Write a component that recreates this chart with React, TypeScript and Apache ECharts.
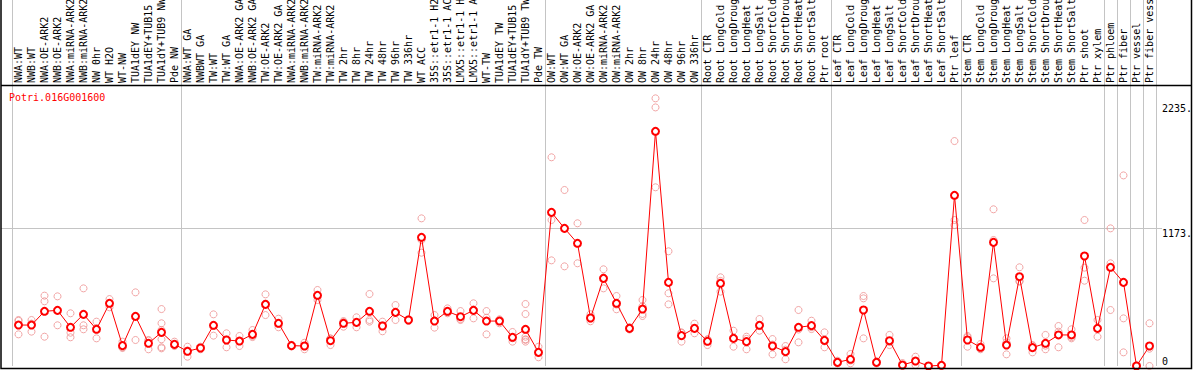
import React, { useEffect, useRef } from 'react';
import * as echarts from 'echarts';

const MONO = 'DejaVu Sans Mono';
const GENE = 'Potri.016G001600';

const categories = [
  'NWA:WT', 'NWB:WT', 'NWA:OE-ARK2', 'NWB:OE-ARK2', 'NWA:miRNA-ARK2', 'NWB:miRNA-ARK2', 'NW 0hr', 'WT H2O', 'WT-NW',
  'TUA1dEY NW', 'TUA1dEY+TUB15 NW', 'TUA1dY+TUB9 NW', 'Pde NW',
  'NWA:WT GA', 'NWBWT GA', 'TW:WT', 'TW:WT GA', 'NWA:OE-ARK2 GA', 'NWB:OE-ARK2 GA', 'TW:OE-ARK2', 'TW:OE-ARK2 GA',
  'NWA:miRNA-ARK2 GA', 'NWB:miRNA-ARK2 GA', 'TW:miRNA-ARK2', 'TW:miRNA-ARK2 GA', 'TW 2hr', 'TW 8hr', 'TW 24hr', 'TW 48hr',
  'TW 96hr', 'TW 336hr', 'WT ACC', '35S::etr1-1 H2O', '35S::etr1-1 ACC', 'LMX5::etr1-1 H2O', 'LMX5::etr1-1 ACC', 'WT-TW',
  'TUA1dEY TW', 'TUA1dEY+TUB15 TW', 'TUA1dY+TUB9 TW', 'Pde TW',
  'OW:WT', 'OW:WT GA', 'OW:OE-ARK2', 'OW:OE-ARK2 GA', 'OW:miRNA-ARK2', 'OW:miRNA-ARK2 GA', 'OW 2hr', 'OW 8hr', 'OW 24hr',
  'OW 48hr', 'OW 96hr', 'OW 336hr',
  'Root CTR', 'Root LongCold', 'Root LongDrought', 'Root LongHeat', 'Root LongSalt', 'Root ShortCold', 'Root ShortDrought',
  'Root ShortHeat', 'Root ShortSalt', 'Ptr root',
  'Leaf CTR', 'Leaf LongCold', 'Leaf LongDrought', 'Leaf LongHeat', 'Leaf LongSalt', 'Leaf ShortCold', 'Leaf ShortDrought',
  'Leaf ShortHeat', 'Leaf ShortSalt', 'Ptr leaf',
  'Stem CTR', 'Stem LongCold', 'Stem LongDrought', 'Stem LongHeat', 'Stem LongSalt', 'Stem ShortCold', 'Stem ShortDrought',
  'Stem ShortHeat', 'Stem ShortSalt', 'Ptr shoot', 'Ptr xylem',
  'Ptr phloem', 'Ptr fiber', 'Ptr vessel', 'Ptr fiber vessel',
];

const means = [
  348, 348, 465, 473, 329, 439, 312, 533, 173, 422, 193, 286, 184,
  125, 153, 346, 221, 212, 269, 524, 363, 173, 170, 601, 215, 363, 371, 465, 340, 456, 391, 1094, 382, 465, 419, 473, 382, 382, 244, 312, 116,
  1306, 1170, 1043, 408, 745, 533, 320, 484, 1995, 711, 258, 320,
  210, 703, 235, 207, 346, 170, 122, 329, 343, 218,
  31, 57, 476, 31, 215, 8, 42, 0, 6, 1451,
  221, 159, 1051, 178, 759, 156, 193, 264, 264, 935, 320,
  839, 711, 0, 170,
];

const replicates: number[][] = [
  [391, 384, 269], [391, 360, 292], [598, 550, 249], [592, 346], [448, 283, 244], [660, 346, 312], [377, 320, 235],
  [569, 533, 499], [207, 159, 153], [626, 221], [221, 142, 216], [484, 363, 306, 227, 159, 150], [207, 170, 175],
  [164, 79, 132], [164, 142], [439, 258, 341], [278, 159, 226], [255, 170], [306, 255, 246], [609, 433, 530],
  [402, 329, 358], [180, 166], [198, 142, 170], [646, 561, 596], [235, 178, 232], [382, 334, 373], [414, 329, 370],
  [612, 391, 377], [377, 295, 348], [518, 391, 459], [398, 384], [1255, 1071, 963], [433, 326, 387], [490, 448, 457],
  [467, 391, 399], [533, 405, 481], [467, 269, 410], [397, 363, 386], [289, 207, 236], [527, 442, 249, 227, 207, 222],
  [164, 74, 110],
  [1774, 1241, 898], [1496, 847], [1213, 873], [440, 380, 404], [822, 660, 753], [595, 482, 522], [330, 310],
  [561, 442, 425, 508], [2275, 2198, 1519], [975, 618, 524], [286, 207, 281], [360, 278, 322],
  [227, 178, 225], [754, 632, 723], [300, 164, 241], [249, 142, 230], [399, 300, 339], [229, 99, 182], [170, 57, 139],
  [476, 201, 310], [385, 330, 314], [286, 159, 209],
  [45, 23, 25], [102, 23, 46], [595, 575, 235], [40, 22], [264, 178, 203], [25, 0], [79, 8, 40], [0, 0], [6, 6],
  [1912, 1241, 1198],
  [255, 164, 244], [187, 142, 148], [1332, 1071, 745], [235, 99, 200], [839, 717, 722], [178, 116, 173], [264, 142, 173],
  [340, 159, 292], [312, 235, 245], [1241, 725, 836], [391, 249],
  [1170, 873, 476], [1620, 405, 116], [6, 0], [363, 0, 147],
];

const groupStarts = [0, 13, 41, 53, 63, 73, 84, 85, 86, 87];
const yTickValues = [0, 1173, 2235];
const gridValue = 1173;
const Y_MAX = 3111;

export default function App() {
  const ref = useRef<HTMLDivElement>(null);

  useEffect(() => {
    document.body.style.margin = '0';
    const chart = echarts.init(ref.current!, null, { renderer: 'svg' });

    const repData: [number, number][] = [];
    replicates.forEach((vals, i) => vals.forEach((v) => repData.push([i, v])));

    chart.setOption({
      animation: false,
      backgroundColor: '#fff',
      title: {
        text: GENE,
        left: 9,
        top: 92,
        padding: 0,
        textStyle: { fontFamily: MONO, fontSize: 10, fontWeight: 'normal', color: '#ff0000' },
      },
      grid: { left: 12, right: 38, top: 0, bottom: 4, containLabel: false, outerBoundsMode: 'none' },
      xAxis: {
        type: 'category',
        data: categories,
        position: 'top',
        offset: -85,
        boundaryGap: true,
        axisLine: { show: false },
        axisTick: { show: false },
        axisLabel: {
          interval: 0,
          rotate: 90,
          margin: 2,
          fontFamily: MONO,
          fontSize: 10,
          color: '#000',
          hideOverlap: false,
        },
        splitLine: {
          show: true,
          interval: (idx: number) => groupStarts.includes(idx),
          lineStyle: { color: '#c4c4c4', width: 1 },
        },
      },
      yAxis: {
        type: 'value',
        position: 'right',
        min: 0,
        max: Y_MAX,
        axisLine: { show: false },
        axisTick: { show: false },
        splitLine: { show: false },
        axisLabel: {
          customValues: yTickValues,
          formatter: (v: number) => (v === 0 ? '0' : `${v}.`),
          fontFamily: MONO,
          fontSize: 10,
          color: '#000',
          margin: 6,
          verticalAlign: 'top',
          verticalAlignMinLabel: 'bottom',
        },
      },
      series: [
        {
          type: 'scatter',
          data: repData,
          symbol: 'circle',
          symbolSize: 7,
          clip: false,
          z: 2,
          itemStyle: { color: 'rgba(0,0,0,0)', borderColor: '#ee9090', borderWidth: 1 },
          silent: true,
        },
        {
          type: 'line',
          data: means,
          symbol: 'emptyCircle',
          symbolSize: 7,
          clip: false,
          z: 3,
          lineStyle: { color: '#ff0000', width: 1 },
          itemStyle: { color: '#ff0000', borderColor: '#ff0000', borderWidth: 1.5 },
          silent: true,
        },
      ],
    });

    const yPix = chart.convertToPixel({ yAxisIndex: 0 }, gridValue) as number;
    chart.setOption({
      graphic: [
        {
          type: 'line',
          z: 0,
          silent: true,
          shape: { x1: 1, y1: Math.round(yPix) + 0.5, x2: 1162, y2: Math.round(yPix) + 0.5 },
          style: { stroke: '#c4c4c4', lineWidth: 1 },
        },
        {
          type: 'line',
          z: 10,
          silent: true,
          shape: { x1: 1, y1: 85.5, x2: 1191.5, y2: 85.5 },
          style: { stroke: '#000', lineWidth: 1.5 },
        },
        {
          type: 'rect',
          z: 10,
          silent: true,
          shape: { x: 1, y: -1, width: 1190.5, height: 369.5 },
          style: { fill: 'none', stroke: '#000', lineWidth: 1.5 },
        },
      ],
    });

    return () => chart.dispose();
  }, []);

  return <div ref={ref} style={{ position: 'absolute', left: 0, top: 0, width: 1194, height: 370 }} />;
}
